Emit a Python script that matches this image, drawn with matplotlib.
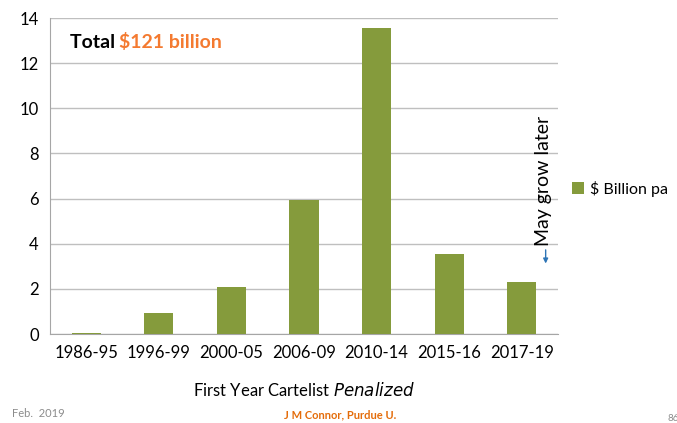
import matplotlib.pyplot as plt
import numpy as np

periods = ['1986-95', '1996-99', '2000-05', '2006-09', '2010-14', '2015-16', '2017-19']
billions = [0.05, 0.93, 2.08, 5.92, 13.56, 3.54, 2.32]
yticks = [0, 2, 4, 6, 8, 10, 12, 14]

plt.rcParams['font.family'] = ['Lato', 'DejaVu Sans']

fig = plt.figure(figsize=(6.77, 4.23), dpi=100)
ax = fig.add_axes([50 / 677, 1 - 334 / 423, 508 / 677, 316 / 423])

x = np.arange(len(periods))
ax.bar(x, billions, width=0.4, color='#859B3C', label='$ Billion pa', zorder=3)

ax.set_xlim(-0.5, len(periods) - 0.5)
ax.set_ylim(0, 14)
ax.set_yticks(yticks)
ax.set_xticks(x)
ax.set_xticklabels(periods)
ax.tick_params(length=0, labelsize=12, colors='black', pad=8)
ax.yaxis.grid(True, color='#BFBFBF', lw=1, zorder=0)
for s in ['top', 'right']:
    ax.spines[s].set_visible(False)
for s in ['left', 'bottom']:
    ax.spines[s].set_color('#A6A6A6')

ax.set_xlabel('First Year Cartelist $\\it{Penalized}$', fontsize=12, labelpad=14)

ax.text(0.04, 0.905, 'Total ', transform=ax.transAxes, fontsize=14, fontweight='bold', color='black')
ax.text(0.135, 0.905, '$121 billion', transform=ax.transAxes, fontsize=14, fontweight='bold', color='#F47A30')

# annotation on the last bar
ax.text(6.3, 6.8, 'May grow later', rotation=90, fontsize=14, ha='center', va='center')
ax.annotate('', xy=(6.33, 3.0), xytext=(6.33, 3.85),
            arrowprops=dict(arrowstyle='-|>', color='#2E75B6', lw=1, mutation_scale=7))

ax.legend(loc='center left', bbox_to_anchor=(1.0, 0.46), frameon=False, fontsize=11.5,
          handlelength=0.7, handleheight=0.7, handletextpad=0.4)

fig.text(12 / 677, 1 - 413 / 423, 'Feb.  2019', fontsize=8, color='#8C8C8C', va='center')
fig.text(340 / 677, 1 - 415 / 423, 'J M Connor, Purdue U.', fontsize=8, color='#E46C0A',
         fontweight='bold', ha='center', va='center')
fig.text(667 / 677, 1 - 418 / 423, '86', fontsize=7, color='#8C8C8C', va='center')

fig.savefig('out.png', dpi=100)
